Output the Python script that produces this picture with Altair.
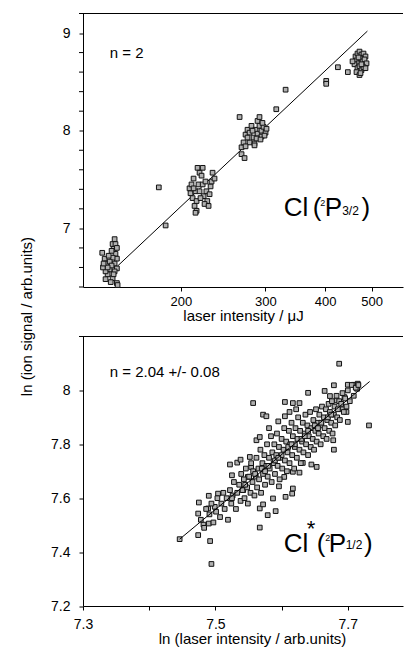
import altair as alt
import pandas as pd

FONT = "Liberation Sans"

# ---------------- top panel data: laser intensity (uJ) vs ln(ion signal) ----------------
top_I = [137.0, 145.4, 144.0, 144.7, 146.0, 147.0, 145.4, 138.6, 139.9, 142.0,
         140.6, 144.0, 147.0, 147.5, 142.7, 139.2, 144.0, 147.0, 145.4, 142.0,
         137.5, 139.2, 146.0, 147.0, 141.3, 143.3, 140.6, 144.7, 137.9, 143.3,
         179.8, 185.8,
         208.4, 210.4, 212.5, 216.6, 222.0, 218.7, 220.8, 209.4, 211.5, 214.5,
         217.6, 215.6, 213.5, 215.6, 223.0, 226.0, 227.0, 224.0, 222.0, 230.6,
         231.7, 232.8, 235.0, 229.5, 218.7, 212.5, 219.7, 225.0, 228.4, 214.5,
         265.1, 267.6, 271.5, 267.6, 270.2, 272.8, 275.4, 278.1, 280.7, 283.5,
         286.2, 289.0, 284.8, 291.7, 294.5, 297.4, 300.3, 294.5, 289.0, 291.7,
         295.9, 298.8, 278.1, 282.1, 275.4, 287.6, 293.1, 301.7, 272.8, 284.8,
         316.2, 330.7, 402.0, 402.0, 425.2, 446.0,
         462.8, 467.2, 471.7, 476.2, 480.9, 485.5, 465.0, 469.5, 474.0, 478.6,
         483.2, 487.9, 460.5, 467.2, 471.7, 476.2, 480.9, 465.0, 471.7, 456.2,
         485.5, 476.2, 469.5, 474.0]
top_S = [6.75, 6.89, 6.84, 6.79, 6.74, 6.69, 6.64, 6.69, 6.64, 6.58,
         6.53, 6.49, 6.44, 6.42, 6.45, 6.56, 6.70, 6.59, 6.56, 6.66,
         6.60, 6.48, 6.84, 6.80, 6.72, 6.62, 6.60, 6.53, 6.64, 6.77,
         7.42, 7.03,
         7.41, 7.45, 7.51, 7.62, 7.62, 7.57, 7.54, 7.36, 7.31, 7.38,
         7.45, 7.28, 7.23, 7.18, 7.33, 7.38, 7.28, 7.25, 7.45, 7.43,
         7.48, 7.57, 7.51, 7.35, 7.38, 7.41, 7.31, 7.48, 7.23, 7.16,
         8.14, 7.76, 7.72, 7.83, 7.88, 7.96, 8.01, 7.98, 8.05, 7.93,
         8.01, 7.97, 7.87, 8.05, 8.00, 8.04, 7.98, 7.94, 8.10, 8.14,
         8.08, 7.95, 7.88, 8.00, 7.93, 7.92, 7.91, 8.02, 7.84, 7.85,
         8.22, 8.42, 8.51, 8.48, 8.65, 8.60,
         8.76, 8.79, 8.81, 8.78, 8.79, 8.76, 8.72, 8.69, 8.74, 8.71,
         8.73, 8.69, 8.68, 8.64, 8.66, 8.62, 8.65, 8.60, 8.57, 8.71,
         8.64, 8.68, 8.75, 8.59]
fit_top_I = [147.5, 490.0]
fit_top_S = [6.615, 9.02]

# ---------------- bottom panel data: ln(laser intensity) vs ln(ion signal) ----------------
bot_out_x = [7.687, 7.732, 7.446, 7.474, 7.492, 7.494, 7.475, 7.474, 7.490, 7.489,
             7.482, 7.490, 7.504, 7.499, 7.522, 7.533, 7.538, 7.525, 7.557, 7.572,
             7.577, 7.562, 7.567, 7.552, 7.554, 7.549, 7.542, 7.567, 7.572, 7.567,
             7.579, 7.591, 7.587, 7.596, 7.605, 7.617, 7.627, 7.622, 7.612, 7.605,
             7.595, 7.581, 7.640, 7.665, 7.679, 7.683, 7.673, 7.695, 7.700, 7.709,
             7.715, 7.714, 7.692, 7.698, 7.700, 7.678, 7.679, 7.632, 7.645, 7.653,
             7.617, 7.627, 7.604, 7.616, 7.617, 7.606]
bot_out_y = [8.099, 7.870, 7.448, 7.463, 7.441, 7.356, 7.584, 7.543, 7.609, 7.562,
             7.502, 7.506, 7.617, 7.568, 7.725, 7.732, 7.743, 7.685, 7.953, 7.910,
             7.904, 7.815, 7.827, 7.753, 7.716, 7.679, 7.630, 7.562, 7.577, 7.491,
             7.537, 7.552, 7.599, 7.644, 7.957, 7.953, 7.953, 7.930, 7.920, 7.904,
             7.885, 7.860, 7.991, 7.998, 8.019, 7.963, 7.979, 7.975, 8.021, 8.021,
             8.025, 8.006, 7.930, 7.920, 7.883, 7.815, 7.780, 7.731, 7.725, 7.716,
             7.698, 7.695, 7.679, 7.617, 7.636, 7.605]

band_x = [7.478, 7.483, 7.486, 7.491, 7.494, 7.497, 7.501, 7.503, 7.507, 7.509,
          7.512, 7.514, 7.517, 7.519, 7.522, 7.524, 7.526, 7.528, 7.531, 7.533,
          7.536, 7.538, 7.539, 7.541, 7.543, 7.544, 7.546, 7.548, 7.549, 7.551,
          7.553, 7.554, 7.556, 7.557, 7.559, 7.561, 7.562, 7.563, 7.565, 7.566,
          7.568, 7.569, 7.571, 7.572, 7.574, 7.575, 7.577, 7.578, 7.579, 7.581,
          7.582, 7.584, 7.585, 7.586, 7.588, 7.589, 7.590, 7.592, 7.593, 7.594,
          7.596, 7.597, 7.598, 7.600, 7.601, 7.603, 7.604, 7.605, 7.607, 7.608,
          7.609, 7.611, 7.612, 7.613, 7.615, 7.616, 7.617, 7.619, 7.620, 7.621,
          7.623, 7.624, 7.625, 7.627, 7.628, 7.629, 7.631, 7.632, 7.633, 7.635,
          7.636, 7.637, 7.639, 7.640, 7.641, 7.643, 7.644, 7.645, 7.647, 7.648,
          7.649, 7.651, 7.652, 7.653, 7.655, 7.656, 7.657, 7.659, 7.660, 7.661,
          7.663, 7.664, 7.665, 7.667, 7.668, 7.669, 7.671, 7.672, 7.673, 7.675,
          7.676, 7.677, 7.679, 7.680, 7.681, 7.683, 7.684, 7.685, 7.687, 7.688,
          7.690, 7.692, 7.694, 7.696, 7.698, 7.700, 7.703, 7.706, 7.709, 7.712,
          7.716,
          7.560, 7.570, 7.580, 7.590, 7.600, 7.610, 7.620, 7.630, 7.640, 7.650,
          7.660, 7.670, 7.575, 7.595, 7.615, 7.635, 7.655, 7.675, 7.545, 7.525]
band_y = [7.52, 7.49, 7.56, 7.54, 7.58, 7.51, 7.55, 7.60, 7.53, 7.58,
          7.62, 7.56, 7.60, 7.52, 7.63, 7.58, 7.61, 7.66, 7.56, 7.62,
          7.65, 7.59, 7.69, 7.63, 7.67, 7.60, 7.71, 7.64, 7.58, 7.68,
          7.62, 7.73, 7.66, 7.70, 7.61, 7.68, 7.75, 7.64, 7.71, 7.67,
          7.78, 7.62, 7.73, 7.69, 7.76, 7.65, 7.72, 7.80, 7.68, 7.75,
          7.71, 7.83, 7.66, 7.77, 7.73, 7.80, 7.69, 7.76, 7.84, 7.72,
          7.79, 7.67, 7.75, 7.82, 7.71, 7.78, 7.86, 7.74, 7.81, 7.70,
          7.77, 7.85, 7.73, 7.80, 7.88, 7.76, 7.83, 7.71, 7.79, 7.86,
          7.75, 7.82, 7.90, 7.78, 7.85, 7.73, 7.81, 7.88, 7.77, 7.84,
          7.91, 7.80, 7.87, 7.76, 7.83, 7.92, 7.79, 7.86, 7.82, 7.89,
          7.78, 7.85, 7.93, 7.81, 7.88, 7.84, 7.91, 7.80, 7.87, 7.94,
          7.83, 7.90, 7.86, 7.93, 7.82, 7.89, 7.95, 7.85, 7.92, 7.88,
          7.96, 7.84, 7.91, 7.94, 7.87, 7.98, 7.90, 7.93, 7.96, 7.89,
          7.95, 7.99, 7.92, 7.97, 7.94, 8.00, 7.96, 8.02, 7.98, 8.01,
          8.02,
          7.69, 7.71, 7.72, 7.74, 7.76, 7.79, 7.80, 7.82, 7.85, 7.87,
          7.88, 7.90, 7.70, 7.75, 7.80, 7.83, 7.86, 7.91, 7.65, 7.60]
fit_bot_x = [7.446, 7.733]
fit_bot_y = [7.448, 8.033]

top_y_labels = [7, 8, 9]
top_y_minor = [6.4, 6.6, 6.8, 7.2, 7.4, 7.6, 7.8, 8.2, 8.4, 8.6, 8.8]
top_x_ticks = [200, 300, 400, 500]
bot_y_ticks = [7.2, 7.3, 7.4, 7.5, 7.6, 7.7, 7.8, 7.9, 8.0, 8.1]
bot_x_ticks = [7.3, 7.4, 7.5, 7.6, 7.7]

# ---------------- tables ----------------
df_top = pd.DataFrame({"I": top_I, "S": top_S})
df_top_fit = pd.DataFrame({"I": fit_top_I, "S": fit_top_S})
df_top_minor = pd.DataFrame({"S": top_y_minor})
df_bot = pd.DataFrame({"x": bot_out_x + band_x, "y": bot_out_y + band_y})
df_bot_fit = pd.DataFrame({"x": fit_bot_x, "y": fit_bot_y})

W = 320
H1 = 273.5
H2 = 269.5

one = pd.DataFrame({"k": [0]})


def txt(s, x, y, size):
    return alt.Chart(one).mark_text(
        text=s, font=FONT, fontSize=size, align="left", baseline="alphabetic", color="black"
    ).encode(x=alt.value(x), y=alt.value(y))


def top_border():
    return alt.Chart(one).mark_rule(color="black", strokeWidth=1).encode(
        x=alt.value(-4), x2=alt.value(W), y=alt.value(0)
    )


pt_style = dict(size=22, fill="#b0b0b0", stroke="#111111", strokeWidth=1, opacity=1)

# ---------------- top chart ----------------
xs_top = alt.X("I:Q", scale=alt.Scale(type="log", domain=[124.9, 581.4], nice=False),
               axis=alt.Axis(values=top_x_ticks, format="d", title="laser intensity / μJ",
                             tickSize=4, labelPadding=4, labelFontSize=13, labelOverlap=False,
                             labelFlush=False, titleFontSize=15, titleY=33.5,
                             titleBaseline="alphabetic"))
ys_top = alt.Y("S:Q", scale=alt.Scale(domain=[6.4, 9.2], nice=False, zero=False),
               axis=alt.Axis(values=top_y_labels, format="d",
                             tickSize=4, labelPadding=9, labelFontSize=14, labelOverlap=False,
                             labelFlush=False,
                             title="ln (ion signal / arb.units)", titleFontSize=15,
                             titleX=-52, titleY=302.5, titleAngle=270, titleAlign="center",
                             titleBaseline="alphabetic"))

top_pts = alt.Chart(df_top).mark_square(**pt_style).encode(x=xs_top, y=ys_top)
top_line = alt.Chart(df_top_fit).mark_line(color="black", strokeWidth=1).encode(
    x=alt.X("I:Q"), y=alt.Y("S:Q"))
top_minor = alt.Chart(df_top_minor).mark_rule(color="black", strokeWidth=1).encode(
    y=alt.Y("S:Q"), x=alt.value(-4), x2=alt.value(0))

top = alt.layer(
    top_line, top_pts, top_minor, top_border(),
    txt("n = 2", 26.7, 44.2, 15),
    txt("Cl", 200.7, 202.5, 26),
    txt("(", 229.7, 202.5, 26),
    txt("2", 237.2, 192.0, 9),
    txt("P", 241.7, 202.5, 26),
    txt("3/2", 259.2, 201.5, 12),
    txt(")", 278.5, 202.5, 26),
).properties(width=W, height=H1)

# ---------------- bottom chart ----------------
xs_bot = alt.X("x:Q", scale=alt.Scale(domain=[7.3, 7.3 + W / 662.0], nice=False, zero=False),
               axis=alt.Axis(values=bot_x_ticks,
                             labelExpr="round(datum.value * 10) % 2 == 1 ? format(datum.value, '.1f') : ''",
                             title="ln (laser intensity / arb.units)",
                             tickSize=4, labelPadding=7, labelFontSize=14, labelOverlap=False,
                             labelFlush=False, titleFontSize=15, titleY=37.5, titleX=169,
                             titleBaseline="alphabetic"))
ys_bot = alt.Y("y:Q", scale=alt.Scale(domain=[7.2, 8.2], nice=False, zero=False),
               axis=alt.Axis(values=bot_y_ticks,
                             labelExpr="round(datum.value * 10) % 2 == 0 ? format(datum.value, '.1~f') : ''",
                             tickSize=4, labelPadding=9, labelFontSize=14, labelOverlap=False,
                             labelFlush=False, title=None))

bot_pts = alt.Chart(df_bot).mark_square(**pt_style).encode(x=xs_bot, y=ys_bot)
bot_line = alt.Chart(df_bot_fit).mark_line(color="black", strokeWidth=1).encode(
    x=alt.X("x:Q"), y=alt.Y("y:Q"))

bot = alt.layer(
    bot_pts, bot_line, top_border(),
    txt("n = 2.04 +/- 0.08", 26.7, 40, 15),
    txt("Cl", 200.7, 215, 26),
    txt("*", 223.7, 199, 22),
    txt("(", 233.7, 215, 26),
    txt("2", 242.2, 204.5, 9),
    txt("P", 245.7, 215, 26),
    txt("1/2", 262.7, 212, 12),
    txt(")", 281.0, 215, 26),
).properties(width=W, height=H2)

chart = alt.vconcat(top, bot, spacing=49, bounds="flush").properties(
    padding={"left": 19, "top": 12.5, "right": 0, "bottom": 0}
).configure_view(stroke=None).configure_axis(
    domainColor="black", tickColor="black", labelColor="black", titleColor="black",
    labelFont=FONT, titleFont=FONT, titleFontWeight="normal", grid=False,
    domainWidth=1, tickWidth=1
)

chart.save("out.html", embed_options={"renderer": "svg", "actions": False})
